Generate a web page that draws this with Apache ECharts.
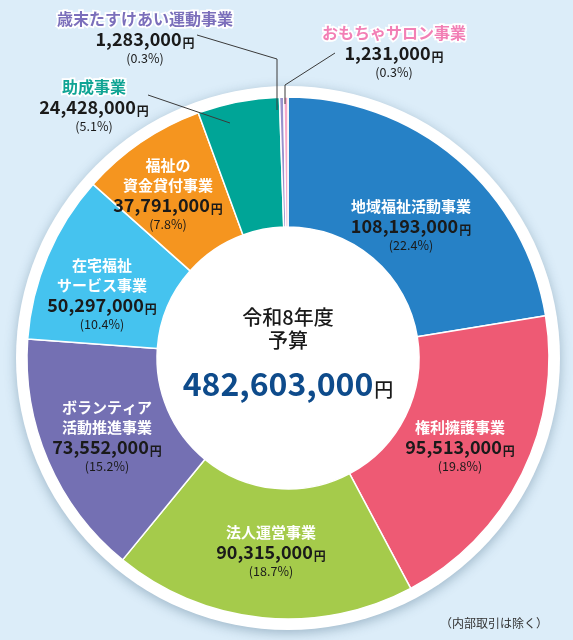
<!DOCTYPE html>
<html>
<head>
<meta charset="utf-8">
<script src="https://cdn.jsdelivr.net/npm/echarts@6/dist/echarts.min.js"></script>
<style>
  html, body { margin: 0; padding: 0; background: #dcedf9; }
  #main { width: 573px; height: 640px; }
</style>
</head>
<body>
<div id="main"></div>
<script>
// 事業名・予算額（円）
const categories = ['地域福祉活動事業', '権利擁護事業', '法人運営事業', 'ボランティア\n活動推進事業', '在宅福祉\nサービス事業', '福祉の\n資金貸付事業', '助成事業', '歳末たすけあい運動事業', 'おもちゃサロン事業']
const budgets = [108193000, 95513000, 90315000, 73552000, 50297000, 37791000, 24428000, 1283000, 1231000]
const colors = ['#2681c6', '#ee5a74', '#a5cb4b', '#7470b3', '#45c3ef', '#f5951f', '#00a597', '#9991cd', '#f6a9ca']
const titleLines = ['令和8年度', '予算']
const note = '（内部取引は除く）'

const total = budgets.reduce((a, b) => a + b, 0)
const FONT = '"Noto Sans CJK JP", "Noto Sans", sans-serif'
const cx = 288, cy = 358

// ラベルの中心位置
const labelPos = {
  0: [411, 225], 1: [460, 446], 2: [271, 551], 3: [107, 436], 4: [102, 294],
  5: [168, 194], 6: [94, 106], 7: [145, 38], 8: [394, 52]
}
// 外側ラベルの引き出し線（扇形の上に描く）
const linePts = [
  [[230, 123], [148, 95]],
  [[277, 110], [277, 59], [197, 35]],
  [[285, 104], [285, 85], [335, 53]]
]
const outerNameColor = { 6: '#10a494', 7: '#7b6fbb', 8: '#f27fb5' }

function makeRich(nameStyle) {
  return {
    name: Object.assign({ fontFamily: FONT, fontSize: 15, fontWeight: 'bold', color: '#fff', lineHeight: 20, textBorderWidth: 0 }, nameStyle),
    val: { fontFamily: FONT, fontSize: 18, fontWeight: 'bold', color: '#1a1a1a', lineHeight: 21, textBorderWidth: 0 },
    yen: { fontFamily: FONT, fontSize: 12, fontWeight: 'bold', color: '#1a1a1a', lineHeight: 21, verticalAlign: 'bottom', padding: [0, 0, 1, 1], textBorderWidth: 0 },
    pct: { fontFamily: FONT, fontSize: 12.5, color: '#1a1a1a', lineHeight: 17, textBorderWidth: 0 }
  }
}

const pieData = categories.map((name, i) => {
  const item = { name: name, value: budgets[i], itemStyle: { color: colors[i] } }
  if (outerNameColor[i]) {
    item.label = {
      position: 'outside',
      rich: makeRich({ color: outerNameColor[i], textBorderColor: '#fff', textBorderWidth: 3.5, fontSize: 16 })
    }
  }
  return item
})

const leaderLines = linePts.map(pts => ({
  type: 'polyline',
  z: 100,
  shape: { points: pts },
  style: { stroke: '#3a3a3a', lineWidth: 1, fill: null }
}))

var myChart = echarts.init(document.getElementById('main'))
var option = {
  backgroundColor: '#dcedf9',
  animation: false,
  graphic: [
    {
      type: 'circle',
      z: 0,
      shape: { cx: cx, cy: cy, r: 272 },
      style: { fill: '#fff', shadowBlur: 12, shadowOffsetY: 3, shadowColor: 'rgba(40,80,110,0.35)' }
    },
    {
      type: 'text',
      z: 100,
      style: {
        text: titleLines.join('\n'), x: cx, y: 329, align: 'center', verticalAlign: 'middle',
        font: '500 20px ' + FONT, lineHeight: 23, fill: '#1a1a1a'
      }
    },
    {
      type: 'text',
      z: 100,
      style: {
        text: '{num|' + total.toLocaleString('en-US') + '}{yen|円}', x: cx, y: 384, align: 'center', verticalAlign: 'middle',
        rich: {
          num: { fontFamily: FONT, fontSize: 32, fontWeight: 'bold', fill: '#0e4b8b', lineHeight: 36 },
          yen: { fontFamily: FONT, fontSize: 19, fontWeight: 500, fill: '#1a1a1a', lineHeight: 36, verticalAlign: 'bottom', padding: [0, 0, 3, 1] }
        }
      }
    },
    {
      type: 'text',
      z: 100,
      style: { text: note, x: 548, y: 623, align: 'right', verticalAlign: 'middle', font: '12px ' + FONT, fill: '#333' }
    }
  ].concat(leaderLines),
  series: [
    {
      type: 'pie',
      z: 2,
      center: [cx, cy],
      radius: [131, 261],
      startAngle: 90,
      clockwise: true,
      percentPrecision: 1,
      avoidLabelOverlap: false,
      itemStyle: { borderColor: '#fff', borderWidth: 1.5 },
      label: {
        show: true,
        position: 'inside',
        formatter: p => '{name|' + p.name + '}\n{val|' + p.value.toLocaleString('en-US') + '}{yen|円}\n{pct|(' + p.percent + '%)}',
        rich: makeRich({})
      },
      labelLine: { show: false },
      labelLayout: p => {
        const pos = labelPos[p.dataIndex]
        return { x: pos[0], y: pos[1], align: 'center', verticalAlign: 'middle' }
      },
      emphasis: { disabled: true },
      data: pieData
    }
  ]
}
myChart.setOption(option)
</script>
</body>
</html>
